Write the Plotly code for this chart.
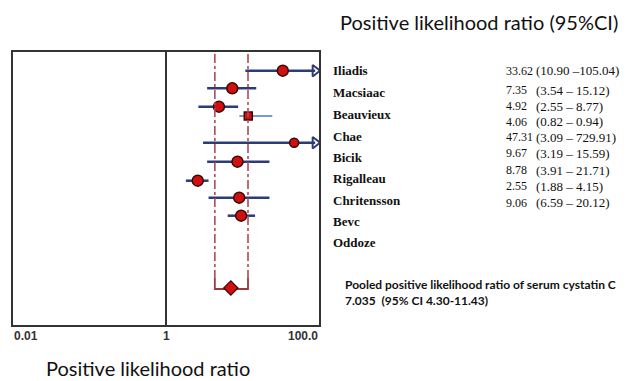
import math
import plotly.graph_objects as go

# ---------------- data ----------------
studies = ["Iliadis", "Macsiaac", "Beauvieux", "Chae", "Bicik",
           "Rigalleau", "Chritensson", "Bevc", "Oddoze"]
lr_text = ["33.62", "7.35", "4.92", "4.06", "47.31", "9.67", "8.78", "2.55", "9.06"]
ci_text = ["(10.90 \u2013105.04)", "(3.54 \u2013 15.12)", "(2.55 \u2013 8.77)",
           "(0.82 \u2013 0.94)", "(3.09 \u2013 729.91)", "(3.19 \u2013 15.59)",
           "(3.91 \u2013 21.71)", "(1.88 \u2013 4.15)", "(6.59 \u2013 20.12)"]

# plotted estimates (as drawn) for the 9 drawn rows
est = [33.62, 7.35, 4.92, 11.9, 47.31, 8.6, 2.6, 9.06, 9.6]
lo = [10.90, 3.45, 2.65, 9.1, 3.05, 3.45, 1.82, 3.6, 6.4]
hi = [105.04, 15.12, 8.77, 24.5, 729.91, 22.5, 3.6, 22.5, 14.6]

pooled_est = 7.035
pooled_lo = 4.35
pooled_hi = 11.8

tick_vals = [0.01, 1, 100]
tick_text = ["0.01", "1", "100.0"]

# ---------------- layout helpers ----------------
W, H = 635, 381
X0, X1, Y0, Y1 = 13, 319, 52, 325          # plot box in pixels
row_y = [70.7, 88.3, 106.7, 116, 142.7, 161.7, 180.7, 197.7, 215.7]
pooled_y = 288
bracket_top = 278
name_y = [70.7, 92.7, 114.3, 136, 157.3, 178.3, 200, 221.7, 242.7]
val_y = [70.7, 90, 106, 121.7, 137.3, 153.3, 170, 186, 202.7]

def px(x):
    return x / W

def py(y):
    return 1 - y / H

AX_MAX = 100.0
ARROW_X = 10 ** 1.95

NAVY = "#2b3c78"
RED = "#d01010"
EDGE = "#3a0808"
DASH = "#b04a58"
BRACKET = "#9a3a3a"

fig = go.Figure()

# CI lines
for i in range(len(est)):
    clipped = hi[i] > AX_MAX
    x_end = ARROW_X if clipped else hi[i]
    thin = (i == 3)
    fig.add_trace(go.Scatter(
        x=[lo[i], x_end], y=[row_y[i], row_y[i]], mode="lines",
        line=dict(color="#4a78c8" if thin else NAVY, width=1.5 if thin else 2.5),
        hoverinfo="skip", showlegend=False))
    if clipped:
        fig.add_trace(go.Scatter(
            x=[ARROW_X], y=[row_y[i]], mode="markers",
            marker=dict(symbol="triangle-right-open", size=10, opacity=1,
                        color=NAVY, line=dict(width=2, color=NAVY)),
            hoverinfo="skip", showlegend=False))

# dashed pooled CI lines
for xv in (pooled_lo, pooled_hi):
    fig.add_shape(type="line", xref="x", yref="y", x0=xv, x1=xv,
                  y0=Y0 + 2, y1=bracket_top,
                  line=dict(color=DASH, width=1.6, dash="dashdot"))

# bracket
fig.add_trace(go.Scatter(
    x=[pooled_lo, pooled_lo, pooled_hi, pooled_hi],
    y=[bracket_top, pooled_y + 1, pooled_y + 1, bracket_top],
    mode="lines", line=dict(color=BRACKET, width=1.8),
    hoverinfo="skip", showlegend=False))

# points
sizes = [11, 11, 11, 8, 9, 11, 11, 11, 11]
symbols = ["circle", "circle", "circle", "square", "circle",
           "circle", "circle", "circle", "circle"]
fig.add_trace(go.Scatter(
    x=est, y=row_y, mode="markers",
    marker=dict(symbol=symbols, size=sizes, color=RED, opacity=1,
                line=dict(color=EDGE, width=1.5)),
    hoverinfo="skip", showlegend=False))

# pooled diamond
fig.add_trace(go.Scatter(
    x=[pooled_est], y=[pooled_y], mode="markers",
    marker=dict(symbol="diamond", size=11, color=RED, opacity=1,
                line=dict(color=EDGE, width=1.2)),
    hoverinfo="skip", showlegend=False))

# vertical line at 1
fig.add_shape(type="line", xref="x", yref="y", x0=1, x1=1, y0=Y0, y1=Y1,
              line=dict(color="#333333", width=2))

annotations = []
SERIF = "Liberation Serif"
for name, y in zip(studies, name_y):
    annotations.append(dict(x=px(332), y=py(y), xref="paper", yref="paper",
                            text="<b>" + name + "</b>", showarrow=False,
                            xanchor="left", yanchor="middle", borderpad=0,
                            font=dict(family=SERIF, size=13, color="#111")))
for v, c, y in zip(lr_text, ci_text, val_y):
    annotations.append(dict(x=px(505), y=py(y), xref="paper", yref="paper",
                            text=v, showarrow=False, xanchor="left", yanchor="middle",
                            borderpad=0,
                            font=dict(family=SERIF, size=12, color="#111")))
    annotations.append(dict(x=px(535), y=py(y), xref="paper", yref="paper",
                            text=c, showarrow=False, xanchor="left", yanchor="middle",
                            borderpad=0,
                            font=dict(family=SERIF, size=13, color="#111")))

# tick labels
anchors = ["left", "center", "right"]
for tv, tt, an in zip(tick_vals, tick_text, anchors):
    annotations.append(dict(x=math.log10(tv), y=py(336), xref="x", yref="paper",
                            text="<b>" + tt + "</b>", borderpad=0,
                            showarrow=False, xanchor=an, yanchor="middle",
                            font=dict(family="Liberation Sans", size=12, color="#333")))

# titles
annotations.append(dict(x=px(339), y=py(22), xref="paper", yref="paper",
                        text="Positive likelihood ratio (95%CI)", showarrow=False,
                        xanchor="left", yanchor="middle", borderpad=0,
                        font=dict(family="Lato", size=20, color="#111")))
annotations.append(dict(x=px(45), y=py(368), xref="paper", yref="paper",
                        text="Positive likelihood ratio", showarrow=False,
                        xanchor="left", yanchor="middle", borderpad=0,
                        font=dict(family="Lato", size=20, color="#111")))
annotations.append(dict(x=px(344), y=py(284), xref="paper", yref="paper",
                        text="<b>Pooled positive likelihood ratio of serum cystatin C</b>",
                        showarrow=False, xanchor="left", yanchor="middle", borderpad=0,
                        font=dict(family="Lato", size=12, color="#111")))
annotations.append(dict(x=px(344), y=py(300), xref="paper", yref="paper",
                        text="<b>7.035  (95% CI 4.30-11.43)</b>",
                        showarrow=False, xanchor="left", yanchor="middle", borderpad=0,
                        font=dict(family="Lato", size=12, color="#111")))

fig.update_layout(
    width=W, height=H, margin=dict(l=0, r=0, t=0, b=0),
    paper_bgcolor="white", plot_bgcolor="white",
    xaxis=dict(type="log", range=[-2, 2], domain=[px(X0), px(X1)],
               showticklabels=False, ticks="", showgrid=False, zeroline=False,
               showline=True, mirror=True, linecolor="#333333", linewidth=2),
    yaxis=dict(range=[Y1, Y0], domain=[py(Y1), py(Y0)],
               showticklabels=False, ticks="", showgrid=False, zeroline=False,
               showline=True, mirror=True, linecolor="#333333", linewidth=2),
    annotations=annotations,
)

fig.write_html("out.html", config={"displayModeBar": False},
               post_script="document.body.style.margin='0';document.body.style.overflow='hidden';")
